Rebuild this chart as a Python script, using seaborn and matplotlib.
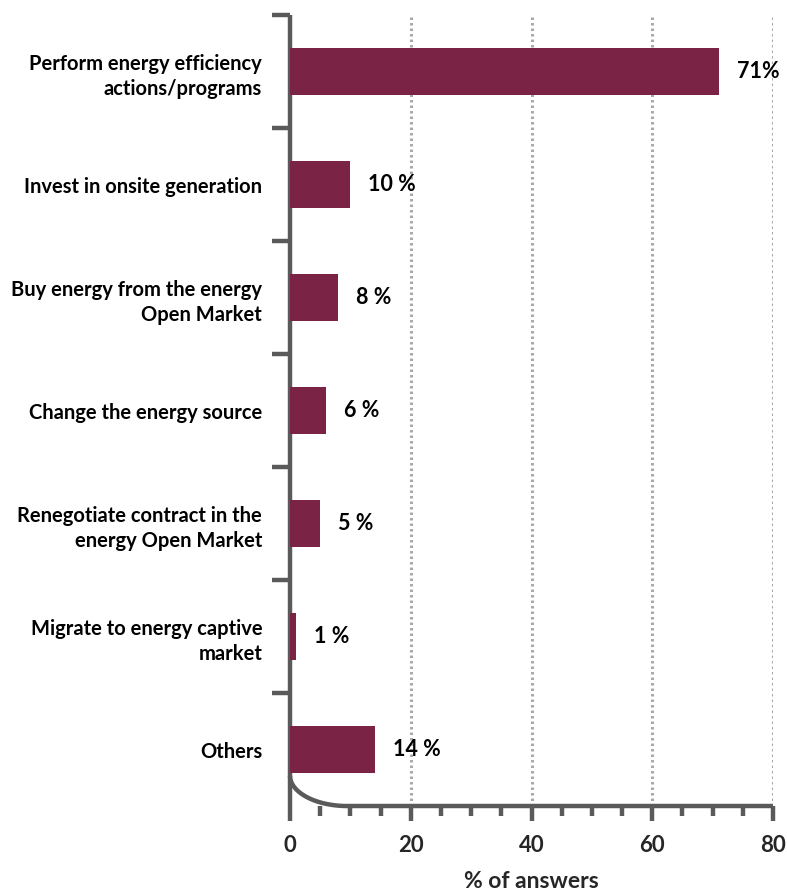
import numpy as np
import pandas as pd
import matplotlib
matplotlib.use("Agg")
import matplotlib.pyplot as plt
import seaborn as sns

# Survey answers: main action taken to reduce energy costs
actions = [
    "Perform energy efficiency\nactions/programs",
    "Invest in onsite generation",
    "Buy energy from the energy\nOpen Market",
    "Change the energy source",
    "Renegotiate contract in the\nenergy Open Market",
    "Migrate to energy captive\nmarket",
    "Others",
]
shares = [71, 10, 8, 6, 5, 1, 14]
value_labels = ["71%", "10 %", "8 %", "6 %", "5 %", "1 %", "14 %"]
x_ticks = [0, 20, 40, 60, 80]

df = pd.DataFrame({"action": actions, "share": shares})

sns.set_theme(style="white")
plt.rcParams["font.family"] = ["Lato", "DejaVu Sans"]
plt.rcParams["font.weight"] = "bold"

bar_color = "#7a2345"
axis_color = "#5a5a5a"

fig = plt.figure(figsize=(7.87, 8.94), dpi=100)
ax = fig.add_axes([0.3685, 0.0984, 0.6137, 0.8848])

sns.barplot(data=df, y="action", x="share", orient="h", color=bar_color,
            saturation=1, width=0.41, linewidth=0, ax=ax, zorder=3)

ax.set_xlim(0, 80)
ax.set_ylim(len(actions) - 0.5, -0.5)

# dotted vertical gridlines at the labelled ticks
for xv in x_ticks[1:]:
    ax.axvline(xv, color="#a8a8a8", lw=2.2, ls=(0, (0.8, 1.0)), zorder=1)

# value labels
ax.bar_label(ax.containers[0], labels=value_labels, padding=13,
             fontsize=15.5, fontweight="bold", color="black")

# spines
for side in ("top", "right"):
    ax.spines[side].set_visible(False)
for side in ("left", "bottom"):
    ax.spines[side].set_color(axis_color)
    ax.spines[side].set_linewidth(3.2)
    ax.spines[side].set_capstyle("butt")
ax.spines["bottom"].set_bounds(9.5, 80)

# rounded corner joining the two axis lines
y_bot = len(actions) - 0.5
t = np.linspace(0, np.pi / 2, 60)
cx, cy = 9.5, y_bot - 0.27
ax.plot(cx - 9.5 * np.cos(t), cy + 0.27 * np.sin(t), color=axis_color,
        lw=3.2, solid_capstyle="butt", clip_on=False, zorder=4)

# x axis ticks
ax.set_xticks(x_ticks)
ax.set_xticks(np.arange(0, 81, 5), minor=True)
ax.tick_params(axis="x", which="major", direction="out", length=11, width=3.2,
               color=axis_color, labelsize=16, pad=10, bottom=True)
ax.tick_params(axis="x", which="minor", direction="out", length=7, width=3.2,
               color=axis_color, bottom=True)
for lab in ax.get_xticklabels():
    lab.set_fontweight("bold")

# y axis: boundary ticks between categories, labels at centers
ax.set_yticks(np.arange(len(actions)))
ax.set_yticklabels(actions, fontsize=14.5, fontweight="bold", ha="right",
                   multialignment="right", linespacing=1.35)
ax.set_yticks(np.arange(len(actions)) - 0.5, minor=True)
ax.tick_params(axis="y", which="major", length=0, pad=20, labelcolor="black")
ax.tick_params(axis="y", which="minor", direction="out", length=13, width=3.2,
               color=axis_color, left=True)

ax.set_ylabel("")
ax.set_xlabel("% of answers", fontsize=16.5, fontweight="bold", labelpad=11)

fig.savefig("out.png", dpi=100, facecolor="white")
